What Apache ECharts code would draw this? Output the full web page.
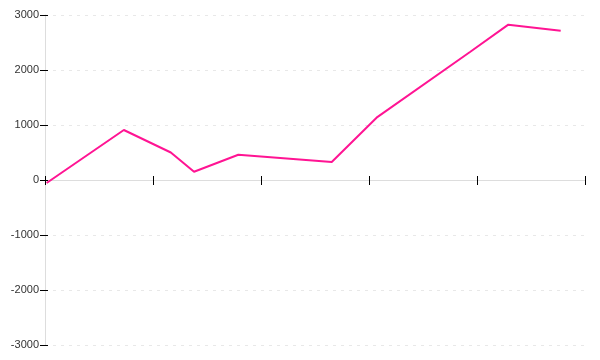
<!DOCTYPE html>
<html>
<head>
<meta charset="utf-8">
<script src="https://cdn.jsdelivr.net/npm/echarts@6/dist/echarts.min.js"></script>
<style>html,body{margin:0;padding:0;background:#fff}#c{width:600px;height:360px}</style>
</head>
<body>
<div id="c"></div>
<script>
var xValues = [0.3, 14.6, 23.3, 27.6, 35.8, 53.1, 61.4, 78.7, 85.8, 95.5];
var yValues = [-55, 909, 500, 150, 460, 327, 1133, 2327, 2824, 2715];
var yTicks = [-3000, -2000, -1000, 0, 1000, 2000, 3000];

var data = xValues.map(function (x, i) { return [x, yValues[i]]; });
var chart = echarts.init(document.getElementById('c'), null, {renderer: 'canvas'});
var tickStyle = {color: '#000', width: 1};
chart.setOption({
  animation: false,
  grid: {left: 45, right: 15, top: 15, bottom: 15, containLabel: false},
  xAxis: [{
    type: 'value', min: 0, max: 100, interval: 20,
    axisLine: {onZero: true, lineStyle: {color: '#ddd', width: 1}},
    axisTick: {show: true, length: 5, lineStyle: tickStyle},
    axisLabel: {show: false},
    splitLine: {show: false}
  }, {
    type: 'value', min: 0, max: 100, interval: 20, position: 'bottom',
    axisLine: {show: false, onZero: true},
    axisTick: {show: true, inside: true, length: 4, lineStyle: tickStyle},
    axisLabel: {show: false},
    splitLine: {show: false}
  }],
  yAxis: [{
    type: 'value', min: yTicks[0], max: yTicks[yTicks.length - 1], interval: 1000,
    axisLine: {show: true, onZero: false, lineStyle: {color: '#ddd', width: 1}},
    axisTick: {show: true, length: 5, lineStyle: tickStyle},
    axisLabel: {color: '#333', fontSize: 11, fontFamily: 'Liberation Sans', margin: 6,
      formatter: function (v) { return String(v); }},
    splitLine: {show: true, lineStyle: {color: '#e8e8e8', type: [3, 5], width: 1}}
  }, {
    type: 'value', min: yTicks[0], max: yTicks[yTicks.length - 1], interval: 1000, position: 'left',
    axisLine: {show: false, onZero: false},
    axisTick: {show: true, inside: true, length: 3, lineStyle: tickStyle},
    axisLabel: {show: false},
    splitLine: {show: false}
  }],
  series: [{
    type: 'line',
    data: data,
    showSymbol: false,
    symbol: 'none',
    lineStyle: {color: '#ff1493', width: 2},
    itemStyle: {color: '#ff1493'}
  }]
});
</script>
</body>
</html>
